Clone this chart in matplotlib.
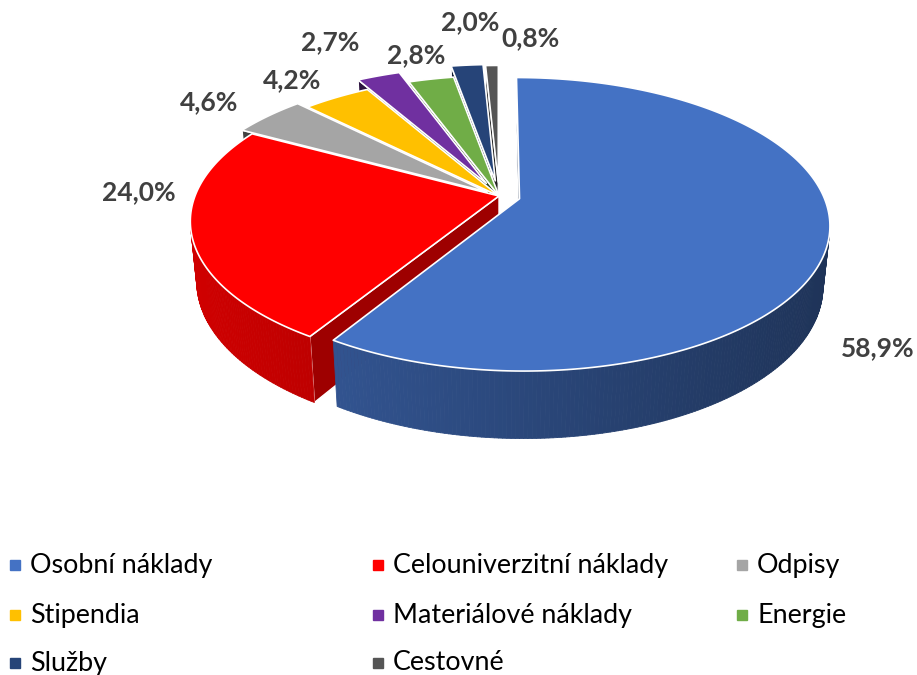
import numpy as np
import matplotlib.pyplot as plt
from matplotlib.patches import Polygon
from matplotlib.colors import to_rgb

labels = ['Osobní náklady', 'Celouniverzitní náklady', 'Odpisy', 'Stipendia',
          'Materiálové náklady', 'Energie', 'Služby', 'Cestovné']
shares = [58.9, 24.0, 4.6, 4.2, 2.7, 2.8, 2.0, 0.8]
colors = ['#4472C4', '#FF0000', '#A5A5A5', '#FFC000', '#7030A0', '#70AD47', '#264478', '#555555']
explode = [0.07, 0.0, 0.05, 0.0, 0.10, 0.0, 0.11, 0.10]
label_xy = [(878, 348), (139, 192), (209, 102), (292, 80), (330, 42), (416, 55), (470, 22), (531, 38)]

FONT = ['Lato', 'DejaVu Sans']

# view of the 3D pie (pixel units)
cx, cy, K = 499, 196, 304
s, c = 0.465, 0.885
d = 5.1
h = 0.225
cam = np.array([0.0, d * s, d * c])


def proj(X, Y, Z):
    depth = Y * s + Z * c
    k = d / (d - depth)
    return cx + K * X * k, cy - K * (Y * c - Z * s) * k


def shade(col, f):
    return tuple(min(1, v * f) for v in to_rgb(col))


def side_f(x):
    return float(np.clip(0.82 - 0.37 * (x - 184) / 646, 0.42, 0.85))


fig = plt.figure(figsize=(9.17, 6.75), dpi=100)
ax = fig.add_axes([0, 0, 1, 1])
ax.set_xlim(0, 917)
ax.set_ylim(675, 0)
ax.axis('off')

angles = np.concatenate([[0], np.cumsum(shares)]) / sum(shares) * 360
sides = []
tops = []
for i in range(len(shares)):
    t1, t2 = angles[i], angles[i + 1]
    mid = np.radians((t1 + t2) / 2)
    ox, oz = explode[i] * np.sin(mid), -explode[i] * np.cos(mid)
    n = max(3, int((t2 - t1) * 1.5))
    th = np.radians(np.linspace(t1, t2, n))
    X = ox + np.sin(th)
    Z = oz - np.cos(th)

    top = [proj(ox, 0, oz)] + [proj(x, 0, z) for x, z in zip(X, Z)]
    tops.append((top, colors[i]))

    # curved outer side
    for j in range(n - 1):
        tm = (th[j] + th[j + 1]) / 2
        nrm = np.array([np.sin(tm), 0, -np.cos(tm)])
        P = np.array([(X[j] + X[j + 1]) / 2, -h / 2, (Z[j] + Z[j + 1]) / 2])
        if nrm @ (cam - P) <= 0:
            continue
        poly = [proj(X[j], 0, Z[j]), proj(X[j + 1], 0, Z[j + 1]),
                proj(X[j + 1], -h, Z[j + 1]), proj(X[j], -h, Z[j])]
        xm = np.mean([p[0] for p in poly])
        col = shade(colors[i], side_f(xm))
        sides.append((P[1] * s + P[2] * c, poly, col, col, 0.6))

    # radial cut faces
    for t, sign in ((np.radians(t1), -1), (np.radians(t2), 1)):
        nrm = sign * np.array([np.cos(t), 0, np.sin(t)])
        xr, zr = ox + np.sin(t), oz - np.cos(t)
        P = np.array([(ox + xr) / 2, -h / 2, (oz + zr) / 2])
        if nrm @ (cam - P) <= 0:
            continue
        poly = [proj(ox, 0, oz), proj(xr, 0, zr), proj(xr, -h, zr), proj(ox, -h, oz)]
        col = shade(colors[i], 0.62 if nrm[0] > 0 else 0.40)
        sides.append((P[1] * s + P[2] * c, poly, col, 'white', 1.0))

for _, poly, col, ec, lw in sorted(sides, key=lambda v: v[0]):
    ax.add_patch(Polygon(poly, closed=True, facecolor=col, edgecolor=ec, lw=lw, joinstyle='round'))
for poly, col in tops:
    ax.add_patch(Polygon(poly, closed=True, facecolor=col, edgecolor='white', lw=1.2, joinstyle='round'))

for v, (x, y) in zip(shares, label_xy):
    ax.text(x, y, f'{v:.1f}%'.replace('.', ','), ha='center', va='center',
            fontsize=19, fontweight='bold', color='#404040', family=FONT)

# legend, three columns, filled row by row
col_x = [15, 378, 742]
row_y = [565, 615, 663]
for i, name in enumerate(labels):
    r, k = divmod(i, 3)
    ax.plot(col_x[k], row_y[r], marker='s', ms=6.5, color=colors[i], lw=0)
    ax.text(col_x[k] + 15, row_y[r], name, va='center', ha='left',
            fontsize=19.4, color='#000000', family=FONT)

fig.savefig('out.png', dpi=100)
